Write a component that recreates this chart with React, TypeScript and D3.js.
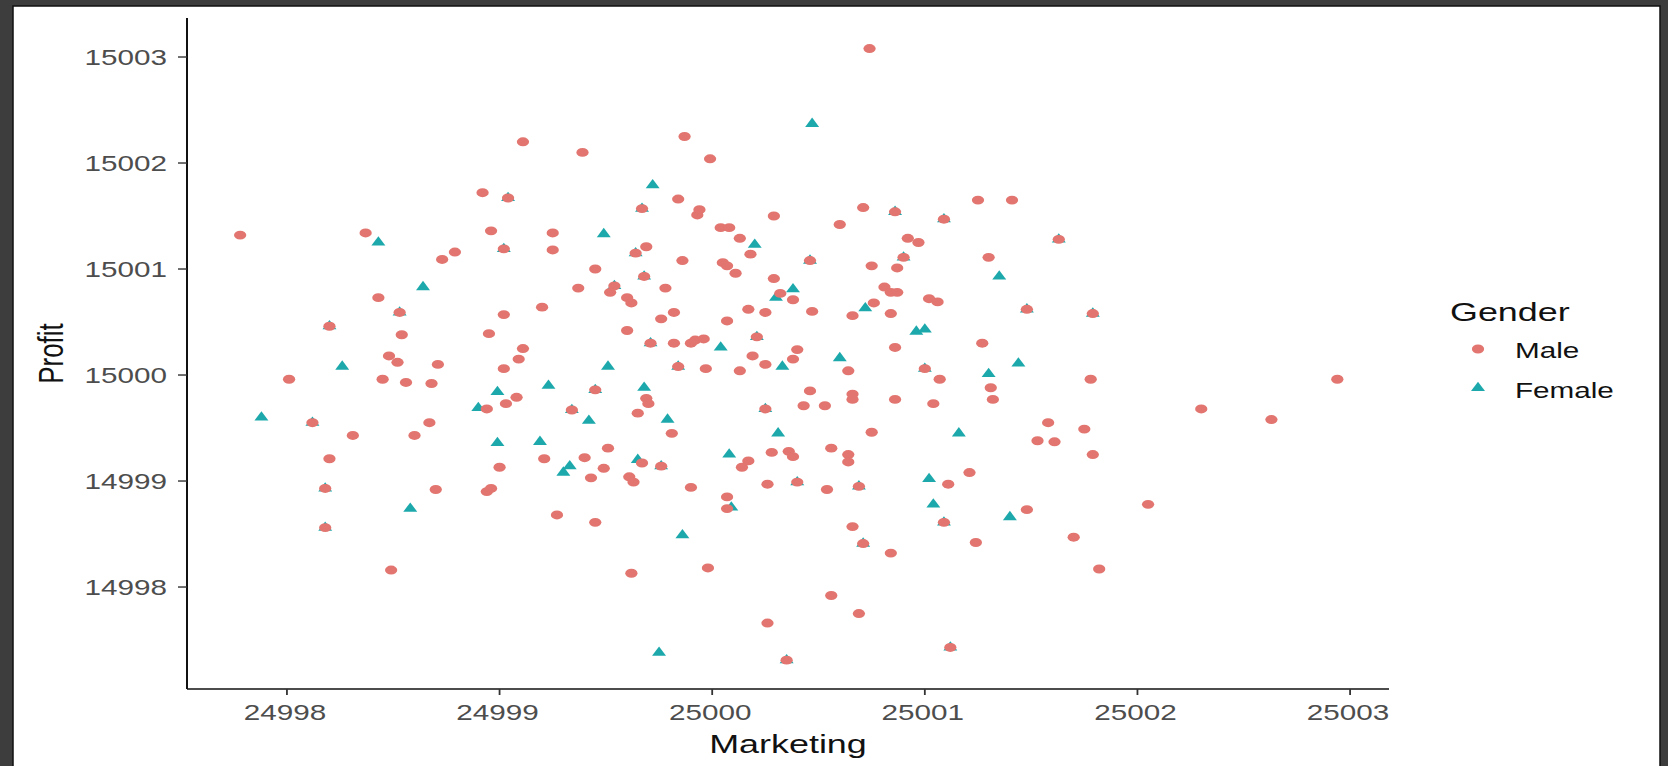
import React from "react";
import * as d3 from "d3";

// ---- data ----
const maleMarketing = [
  24997.78, 24998.37, 24998.43, 24998.53, 24998.20, 24998.54, 24998.48, 24998.52, 24998.01, 24998.45,
  24998.56, 24998.12, 24998.31, 24998.60, 24998.20, 24998.18, 24998.18, 24998.49, 24999.11, 24999.39,
  24999.87, 24999.99, 24998.92, 24999.04, 24999.84, 24999.67, 24999.93, 24999.94, 25000.29, 25000.04,
  25000.08, 25000.13, 25000.18, 24998.96, 24999.25, 24999.25, 24999.02, 24998.79, 24998.73, 24999.64,
  24999.69, 25000.46, 24999.86, 25000.05, 25000.07, 25000.11, 24999.45, 24999.68, 25000.29, 25000.32,
  25000.38, 24999.37, 24999.54, 24999.52, 24999.60, 24999.62, 24999.78, 25000.47, 25000.17, 25000.25,
  25000.07, 24999.82, 24999.76, 24999.60, 24999.20, 24999.02, 24998.95, 24999.11, 24999.09, 24998.71,
  24999.02, 24999.71, 24999.82, 24999.90, 24999.92, 24999.96, 25000.21, 25000.40, 25000.38, 25000.19,
  25000.25, 24999.84, 24999.97, 25000.13, 24998.68, 24999.45, 24999.69, 24999.70, 25000.46, 25000.43,
  24999.08, 24999.03, 24998.94, 24999.34, 24999.65, 25000.25, 24998.67, 24999.81, 24999.51, 25000.28,
  25000.36, 25000.38, 25000.17, 25000.14, 24999.21, 24999.40, 24999.49, 24999.67, 24999.76, 24999.00,
  24999.43, 24999.61, 24999.63, 25000.26, 25000.40, 24999.90, 24998.70, 24998.94, 24998.96, 25000.07,
  25000.07, 24999.27, 24999.45, 24999.98, 24999.62, 25000.26, 25000.35, 25000.74, 25001.25, 25001.41,
  25000.71, 25000.86, 25001.09, 25000.60, 25000.92, 25000.97, 25001.63, 25001.30, 25000.90, 25000.75,
  25000.87, 25000.81, 25000.84, 25000.87, 25000.76, 25000.66, 25000.84, 25001.02, 25001.06, 25001.48,
  25001.79, 25000.86, 25001.27, 25000.64, 25001.00, 25001.07, 25001.78, 25000.66, 25000.66, 25000.86,
  25001.04, 25001.31, 25001.32, 25000.53, 25002.30, 25000.75, 25001.58, 25001.75, 25001.53, 25001.61,
  25001.79, 25000.56, 25000.64, 25000.64, 25001.21, 25001.11, 25000.69, 25000.54, 25002.05, 25001.48,
  25001.09, 25000.66, 25001.70, 25000.71, 25001.24, 25000.84, 25001.82, 25000.56, 25000.69, 25001.12,
  25002.94, 25002.63,
];
const maleProfit = [
  15001.32, 15001.34, 15000.73, 15000.59, 15000.46, 15000.38, 15000.18, 15000.12, 14999.96, 14999.96,
  14999.93, 14999.55, 14999.43, 14999.43, 14999.21, 14998.93, 14998.56, 14998.16, 15002.20, 15002.10,
  15002.25, 15002.04, 15001.72, 15001.67, 15001.66, 15001.57, 15001.51, 15001.56, 15001.50, 15001.39,
  15001.39, 15001.29, 15001.14, 15001.36, 15001.34, 15001.18, 15001.19, 15001.16, 15001.09, 15001.15,
  15001.21, 15001.08, 15001.08, 15001.06, 15001.03, 15000.96, 15001.00, 15000.93, 15000.91, 15000.77,
  15000.71, 15000.82, 15000.84, 15000.78, 15000.73, 15000.68, 15000.82, 15000.60, 15000.62, 15000.59,
  15000.51, 15000.59, 15000.53, 15000.42, 15000.64, 15000.57, 15000.39, 15000.25, 15000.15, 15000.10,
  15000.06, 15000.30, 15000.30, 15000.30, 15000.33, 15000.34, 15000.36, 15000.24, 15000.15, 15000.18,
  15000.10, 15000.08, 15000.06, 15000.04, 14999.92, 14999.86, 14999.78, 14999.73, 14999.85, 14999.71,
  14999.79, 14999.73, 14999.68, 14999.67, 14999.64, 14999.68, 14999.55, 14999.45, 14999.31, 14999.27,
  14999.28, 14999.23, 14999.19, 14999.13, 14999.21, 14999.22, 14999.12, 14999.17, 14999.14, 14999.13,
  14999.03, 14999.04, 14998.99, 14998.97, 14998.99, 14998.94, 14998.92, 14998.90, 14998.93, 14998.85,
  14998.74, 14998.68, 14998.61, 14998.18, 14998.13, 14997.66, 14997.31, 15003.08, 15001.65, 15001.65,
  15001.58, 15001.54, 15001.47, 15001.42, 15001.29, 15001.25, 15001.28, 15001.11, 15001.11, 15001.03,
  15001.01, 15000.83, 15000.78, 15000.78, 15000.68, 15000.56, 15000.58, 15000.72, 15000.69, 15000.62,
  15000.58, 15000.26, 15000.30, 15000.04, 15000.06, 14999.96, 14999.96, 14999.82, 14999.77, 14999.77,
  14999.73, 14999.88, 14999.77, 14999.71, 14999.68, 14999.46, 14999.55, 14999.49, 14999.38, 14999.37,
  14999.25, 14999.31, 14999.25, 14999.18, 14999.08, 14998.97, 14998.95, 14998.92, 14998.78, 14998.73,
  14998.61, 14998.57, 14998.47, 14998.41, 14998.42, 14998.32, 14998.17, 14997.92, 14997.75, 14997.43,
  14999.96, 14999.58,
];
const femaleMarketing = [
  24998.53, 24998.20, 24998.12, 24998.18, 24998.18, 24999.04, 24999.67, 24999.02, 24999.64, 25000.46,
  24999.68, 24999.54, 24999.71, 25000.21, 24999.84, 24999.45, 24999.34, 25000.25, 24999.76, 25000.40,
  25000.35, 25000.86, 25001.09, 25001.63, 25000.90, 25001.48, 25001.79, 25001.00, 25000.69, 25001.09,
  25000.71, 25001.12,
  24998.43, 24998.64, 24998.26, 24997.88, 24998.58, 25000.47, 24999.72, 25000.20, 24999.49, 25000.38,
  25000.30, 25000.04, 25000.33, 24999.51, 24998.99, 24999.23, 24999.68, 24998.90, 24999.42, 24999.79,
  25000.31, 24998.99, 24999.19, 25000.08, 24999.33, 24999.30, 24999.65, 25000.09, 24999.86, 24999.75,
  25001.35, 25000.72, 25000.96, 25001.00, 25000.60, 25001.44, 25001.30, 25001.16, 25001.02, 25001.04,
  25001.40,
];
const femaleProfit = [
  15000.59, 15000.46, 14999.55, 14998.93, 14998.56, 15001.67, 15001.57, 15001.19, 15001.15, 15001.08,
  15000.93, 15000.84, 15000.30, 15000.36, 15000.08, 14999.86, 14999.67, 14999.68, 14999.14, 14998.99,
  14997.31, 15001.54, 15001.47, 15001.28, 15001.11, 15000.62, 15000.58, 15000.06, 14998.95, 14998.61,
  14998.41, 14997.43,
  15001.25, 15000.83, 15000.08, 14999.60, 14998.74, 15002.37, 15001.79, 15001.23, 15001.33, 15000.81,
  15000.73, 15000.26, 15000.08, 15000.08, 14999.84, 14999.90, 14999.88, 14999.69, 14999.57, 14999.58,
  14999.45, 14999.36, 14999.37, 14999.25, 14999.14, 14999.08, 14999.20, 14998.75, 14998.49, 14997.38,
  15000.93, 15000.63, 15000.41, 15000.43, 15000.16, 15000.11, 15000.01, 14999.45, 14999.02, 14998.78,
  14998.66,
];
const xTicks = [24998, 24999, 25000, 25001, 25002, 25003];
const yTicks = [14998, 14999, 15000, 15001, 15002, 15003];
const genders = ["Male", "Female"];
const xTitle = "Marketing";
const yTitle = "Profit";
const legendTitle = "Gender";

// ---- layout ----
const W = 1668;
const H = 766;
const panel = { left: 187, right: 1389, top: 18, bottom: 689 };
const SX = 1.38; // horizontal stretch of the reference
const FONT = "'Liberation Sans', Arial, Helvetica, sans-serif";
const MALE = "#E2756F";
const FEMALE = "#1DA9AC";

const x = d3.scaleLinear().domain([24997.53, 25003.183]).range([panel.left, panel.right]);
const y = d3.scaleLinear().domain([14997.038, 15003.368]).range([panel.bottom, panel.top]);

const circlePath = d3.symbol().type(d3.symbolCircle).size(62)() as string;
const triPath = d3.symbol().type(d3.symbolTriangle).size(50)() as string;
const CIRC_SX = 1.38;
const TRI_SX = 1.3;

function T({ x0, y0, anchor, size, fill, children, rotate }: any) {
  const tr = `translate(${x0},${y0}) scale(${SX},1)` + (rotate ? ` rotate(${rotate})` : "");
  return (
    <text transform={tr} textAnchor={anchor} fontSize={size} fill={fill} fontFamily={FONT}>
      {children}
    </text>
  );
}

export default function App() {
  return (
    <svg width={W} height={H} style={{ position: "absolute", left: 0, top: 0 }}>
      <rect x={0} y={0} width={W} height={H} fill="#3d3d3d" />
      <rect x={13} y={6} width={1647} height={H + 10} fill="#ffffff" stroke="#111" strokeWidth={1.5} />

      {/* points */}
      <g>
        {femaleMarketing.map((v, i) => (
          <path
            key={"f" + i}
            d={triPath}
            fill={FEMALE}
            transform={`translate(${x(v)},${y(femaleProfit[i])}) scale(${TRI_SX},1)`}
          />
        ))}
        {maleMarketing.map((v, i) => (
          <path
            key={"m" + i}
            d={circlePath}
            fill={MALE}
            transform={`translate(${x(v)},${y(maleProfit[i])}) scale(${CIRC_SX},1)`}
          />
        ))}
      </g>

      {/* axes */}
      <line x1={panel.left} x2={panel.left} y1={panel.top} y2={panel.bottom} stroke="#111" strokeWidth={2} />
      <line x1={panel.left} x2={panel.right} y1={panel.bottom} y2={panel.bottom} stroke="#111" strokeWidth={1.6} />
      {yTicks.map((t) => (
        <g key={"y" + t}>
          <line x1={panel.left - 9} x2={panel.left} y1={y(t)} y2={y(t)} stroke="#333" strokeWidth={1.4} />
          <T x0={167} y0={y(t) + 8} anchor="end" size={21.5} fill="#4d4d4d">
            {t}
          </T>
        </g>
      ))}
      {xTicks.map((t) => (
        <g key={"x" + t}>
          <line x1={x(t)} x2={x(t)} y1={panel.bottom} y2={panel.bottom + 6} stroke="#333" strokeWidth={1.8} />
          <T x0={x(t) - 2} y0={720} anchor="middle" size={21.5} fill="#4d4d4d">
            {t}
          </T>
        </g>
      ))}
      <T x0={(panel.left + panel.right) / 2} y0={753} anchor="middle" size={26} fill="#111">
        {xTitle}
      </T>
      <T x0={63} y0={(panel.top + panel.bottom) / 2} anchor="middle" size={26} fill="#111" rotate={-90}>
        {yTitle}
      </T>

      {/* legend */}
      <T x0={1450} y0={321} anchor="start" size={26} fill="#111">
        {legendTitle}
      </T>
      {genders.map((g, i) => (
        <g key={g}>
          <path
            d={i === 0 ? circlePath : triPath}
            fill={i === 0 ? MALE : FEMALE}
            transform={`translate(1478,${349 + i * 39}) scale(${i === 0 ? CIRC_SX : TRI_SX},1)`}
          />
          <T x0={1515} y0={358 + i * 40} anchor="start" size={21.5} fill="#111">
            {g}
          </T>
        </g>
      ))}
    </svg>
  );
}
